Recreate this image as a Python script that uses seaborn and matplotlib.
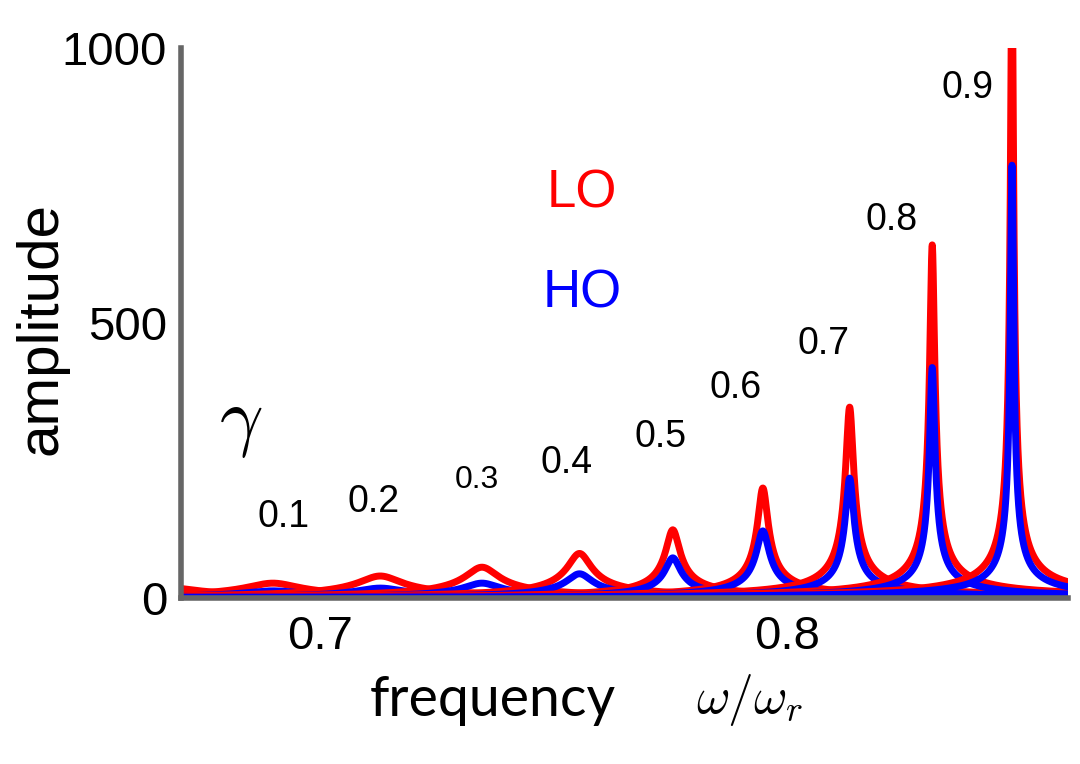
import numpy as np
import pandas as pd
import matplotlib
matplotlib.use("Agg")
import matplotlib.pyplot as plt
import seaborn as sns

# data (peak frequency, peak amplitude, half-width)
gamma_labels = ["", "0.1", "0.2", "0.3", "0.4", "0.5", "0.6", "0.7", "0.8", "0.9"]
peak_freq = [0.666, 0.6898, 0.7128, 0.7346, 0.7555, 0.7755, 0.7948, 0.8134, 0.8311, 0.8482]
lo_peak   = [20, 27, 40, 56, 81, 124, 200, 347, 642, 1180]
ho_peak   = [8, 13, 18, 27, 44, 73, 122, 218, 419, 787]
lo_width  = [0.007, 0.0057, 0.0046, 0.0035, 0.0025, 0.00146, 0.00107, 0.00081, 0.0005, 0.0003]
ho_width  = [0.0075, 0.0062, 0.005, 0.0038, 0.0027, 0.0016, 0.0013, 0.00085, 0.00052, 0.00031]

x_range = (0.6701, 0.8602)
x_ticks = [0.7, 0.8]
y_ticks = [0, 500, 1000]

# label placement (data coords) and font sizes
label_pos = [None, (0.6920, 147), (0.7113, 175), (0.7335, 215), (0.7528, 245),
             (0.7728, 293), (0.7889, 382), (0.8079, 462), (0.8223, 687), (0.8386, 927)]
label_size = [0, 27, 27, 23, 27, 27, 27, 27, 27, 27]

sns.set_theme(style="white")
plt.rcParams["font.family"] = ["Liberation Sans", "DejaVu Sans"]
plt.rcParams["mathtext.fontset"] = "cm"
plt.rcParams["text.color"] = "black"
plt.rcParams["axes.labelcolor"] = "black"

GREY = "#666666"
RED, BLUE = "#ff0000", "#0000ff"

freq = np.linspace(x_range[0], x_range[1], 20001)


def response(f0, h, w):
    # driven-oscillator amplitude shape
    return h / np.sqrt(1 + ((freq - f0) / w) ** 2)


rows = []
for i, f0 in enumerate(peak_freq):
    for model, h, w in (("LO", lo_peak[i], lo_width[i]), ("HO", ho_peak[i], ho_width[i])):
        rows.append(pd.DataFrame({"freq": freq, "amp": response(f0, h, w),
                                  "model": model, "curve": i}))
df = pd.concat(rows, ignore_index=True)

fig = plt.figure(figsize=(10.8, 7.64), dpi=100)
ax = fig.add_axes([181 / 1080, 166 / 764, 887 / 1080, 550 / 764])

for i in range(len(peak_freq)):
    for model, color in (("LO", RED), ("HO", BLUE)):
        sub = df[(df["curve"] == i) & (df["model"] == model)]
        sns.lineplot(data=sub, x="freq", y="amp", color=color, lw=5,
                     estimator=None, sort=False, ax=ax, legend=False)

ax.set_xlim(*x_range)
ax.set_ylim(0, 1000)
ax.set_xticks(x_ticks)
ax.set_xticklabels([f"{t:.1f}" for t in x_ticks])
ax.set_yticks(y_ticks)
ax.set_yticklabels([str(t) for t in y_ticks])

for side in ("top", "right"):
    ax.spines[side].set_visible(False)
for side in ("left", "bottom"):
    ax.spines[side].set_color(GREY)
    ax.spines[side].set_linewidth(4)
ax.set_axisbelow(False)
ax.tick_params(direction="in", length=8, width=3, color=GREY, labelsize=34,
               labelcolor="black")
ax.tick_params(axis="x", pad=12)
ax.tick_params(axis="y", pad=10)

ax.set_xlabel("")
ax.set_ylabel("amplitude", fontsize=42, color="black")
ax.yaxis.set_label_coords(-0.127, 0.49)
fig.text(493 / 1080, 1 - 700 / 764, "frequency", fontsize=40, family="Lato",
         ha="center", va="center", color="black")
fig.text(750 / 1080, 1 - 700 / 764, r"$\omega/\omega_r$", fontsize=37,
         ha="center", va="center", color="black")

for lab, pos, fs in zip(gamma_labels, label_pos, label_size):
    if pos is None:
        continue
    ax.text(pos[0], pos[1], lab, fontsize=fs, ha="center", va="center", color="black")

ax.text(0.756, 735, "LO", color=RED, fontsize=38, ha="center", va="center")
ax.text(0.756, 553, "HO", color=BLUE, fontsize=38, ha="center", va="center")
ax.text(0.683, 315, r"$\gamma$", fontsize=55, ha="center", va="center", color="black")

fig.savefig("out.png", dpi=100, facecolor="white")
